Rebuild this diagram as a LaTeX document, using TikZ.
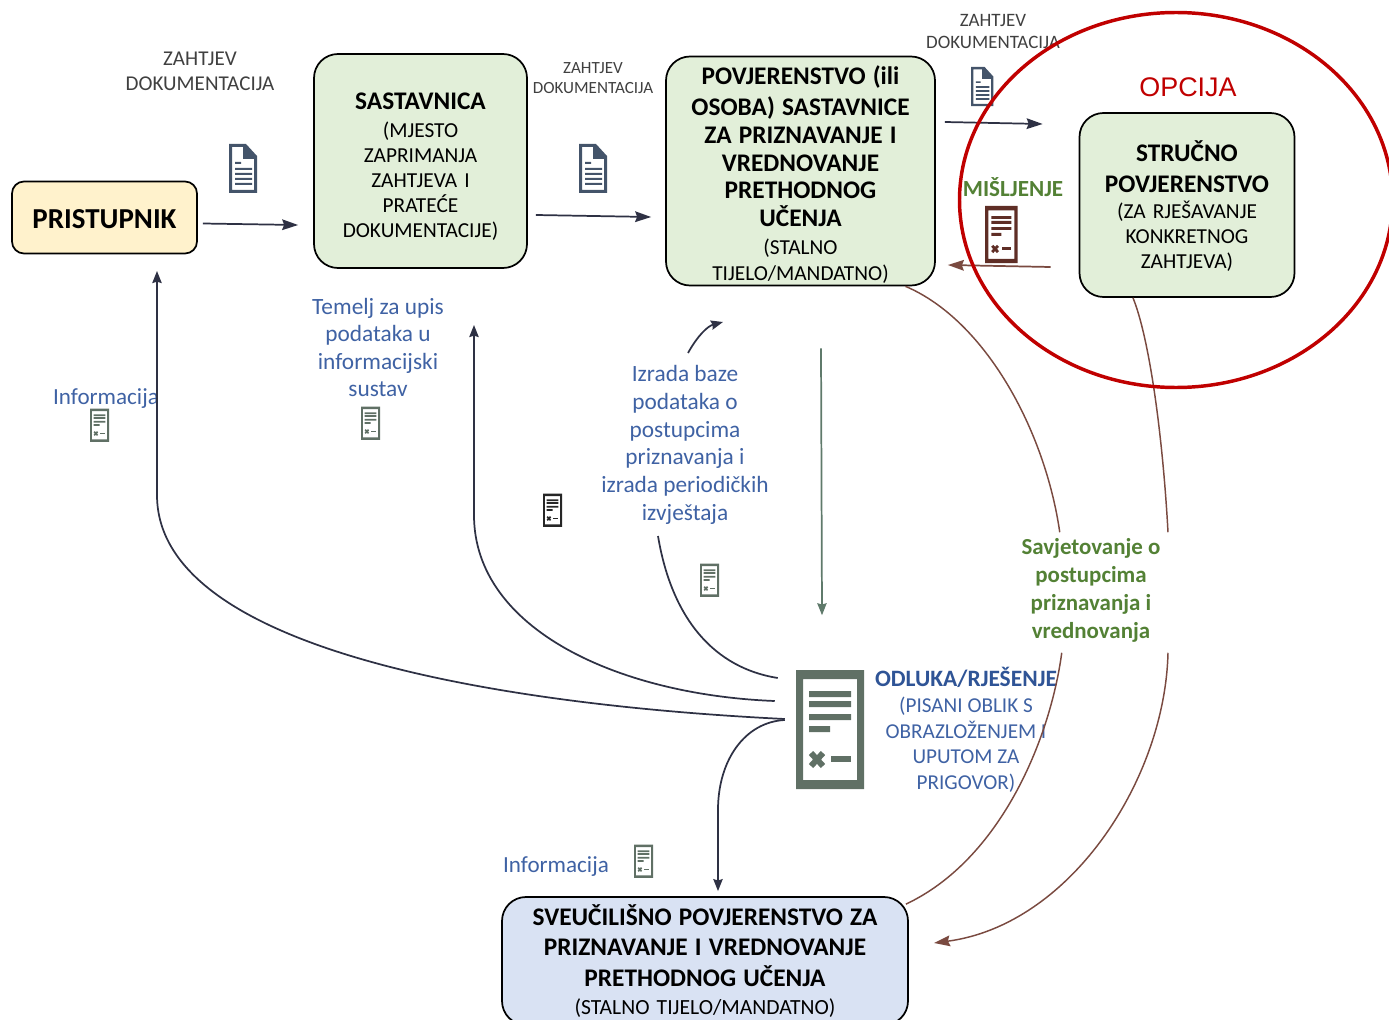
\documentclass[tikz,border=0pt]{standalone}
\usepackage{fontspec}
\setmainfont{Carlito}
\newfontfamily\arialf{Liberation Sans}
\usetikzlibrary{arrows.meta,shapes.geometric,calc}
\definecolor{gfill}{HTML}{E2EFD9}
\definecolor{yfill}{HTML}{FFF2CC}
\definecolor{bfill}{HTML}{D9E2F3}
\definecolor{tblue}{HTML}{2F5496}
\definecolor{lblue}{HTML}{3F62A4}
\definecolor{tgreen}{HTML}{538135}
\definecolor{tgray}{HTML}{404040}
\definecolor{brownl}{HTML}{7A4A40}
\definecolor{brownd}{HTML}{5F2E26}
\definecolor{redc}{HTML}{C00000}
\definecolor{darkl}{HTML}{2E3144}
\definecolor{icong}{HTML}{607065}
\definecolor{icond}{HTML}{44546A}
\definecolor{arrowg}{HTML}{5F7A6B}
\newcommand{\fs}[2]{\fontsize{#1}{#2}\selectfont}
\newcommand{\bb}[1]{{\fontsize{19}{\baselineskip}\selectfont\bfseries #1}}
\tikzset{
  x=0.75pt,y=-0.75pt,
  card/.style={draw=black,line width=1.3pt,rounded corners=18pt,align=center,inner sep=0pt,text=black},
  lbl/.style={align=center,inner sep=0pt},
  linkd/.style={draw=darkl,line width=1.3pt},
  arrd/.style={linkd,-{Stealth[length=12pt,width=8pt,inset=1.5pt]}},
  arrs/.style={linkd,-{Stealth[length=9pt,width=7pt,inset=1pt]}},
  linkb/.style={draw=brownl,line width=1.1pt},
  formicon/.pic={
    \fill[#1,even odd rule] (0,0) rectangle (68,119) (7,9) rectangle (61,110);
    \fill[#1] (13,21) rectangle (55,27) (13,31) rectangle (55,37) (13,44) rectangle (55,50) (13,56) rectangle (34,62);
    \fill[#1] (35,86) rectangle (55,92);
    \fill[#1] (12.8,85) -- (17.2,81) -- (29.2,94) -- (24.8,98) -- cycle (24.8,81) -- (29.2,85) -- (17.2,98) -- (12.8,94) -- cycle;
  },
  docicon/.pic={
    \fill[#1,even odd rule] (0,0) -- (17,0) -- (28,12) -- (28,49) -- (0,49) -- cycle
       (3,3) -- (14,3) -- (14,15) -- (25,15) -- (25,46) -- (3,46) -- cycle;
    \fill[#1] (6,18) rectangle (12,20) (6,24) rectangle (23,26) (6,29) rectangle (23,31) (6,34) rectangle (23,36) (6,39) rectangle (23,41);
  },
}
\begin{document}
\begin{tikzpicture}
\useasboundingbox (0,0) rectangle (1389,1020);

% boxes
\node[card,fill=yfill,text width=185*0.75pt,minimum height=72*0.75pt,rounded corners=9pt,font=\fs{21.7}{24}\bfseries] (pris) at (104.5,217.5) {\rule{0pt}{17pt}PRISTUPNIK};
\node[card,fill=gfill,text width=213*0.75pt,minimum height=214*0.75pt,font=\fs{16}{18.8}] (sast) at (420.5,161) {\rule{0pt}{21.2pt}\bb{SASTAVNICA}\\[2pt](MJESTO\\ZAPRIMANJA\\ZAHTJEVA I\\PRATEĆE\\DOKUMENTACIJE)};
\node[card,fill=gfill,text width=269*0.75pt,minimum height=229*0.75pt,font=\fs{16}{20.8}] (pov) at (800.5,171) {\rule{0pt}{19.3pt}\bb{POVJERENSTVO (ili}\\[2.5pt]\bb{OSOBA) SASTAVNICE}\\\bb{ZA PRIZNAVANJE I}\\\bb{VREDNOVANJE}\\\bb{PRETHODNOG}\\\bb{UČENJA}\\(STALNO\\[-1.5pt]TIJELO/MANDATNO)};
\node[card,fill=gfill,text width=215*0.75pt,minimum height=184*0.75pt,font=\fs{16}{18.8}] (stru) at (1187,205) {\rule{0pt}{17pt}\bb{STRUČNO}\\[4.5pt]\bb{POVJERENSTVO}\\[0.7pt](ZA RJEŠAVANJE\\KONKRETNOG\\ZAHTJEVA)};
\node[card,fill=bfill,text width=406*0.75pt,minimum height=128*0.75pt,font=\fs{16.2}{22.9}] (sveu) at (705,961) {\bb{SVEUČILIŠNO POVJERENSTVO ZA}\\\bb{PRIZNAVANJE I VREDNOVANJE}\\\bb{PRETHODNOG UČENJA}\\[-1.8pt](STALNO TIJELO/MANDATNO)};

% labels
\node[lbl,text=tgray,font=\fs{15.8}{18.8}] (l1) at (200,71) {ZAHTJEV\\DOKUMENTACIJA};
\node[lbl,text=tgray,font=\fs{12.8}{15}] (l2) at (593,78) {ZAHTJEV\\DOKUMENTACIJA};
\node[lbl,text=tgray,font=\fs{14.2}{16.5}] (l3) at (993,31) {ZAHTJEV\\DOKUMENTACIJA};
\node[lbl,text=redc,font=\arialf\fs{20.2}{24}] (opc) at (1188,87) {OPCIJA};
\node[lbl,text=tgreen,font=\fs{17.3}{20}\bfseries] (mis) at (1013,187) {MIŠLJENJE};
\node[lbl,text=lblue,font=\fs{17.5}{20.7}] (temelj) at (378,347.5) {Temelj za upis\\podataka u\\informacijski\\sustav};
\node[lbl,text=lblue,font=\fs{17.3}{20}] (info1) at (106,399) {Informacija};
\node[lbl,text=lblue,font=\fs{17.3}{20}] (info2) at (556,866.5) {Informacija};
\node[lbl,text=lblue,font=\fs{17.5}{20.8}] (izrada) at (685,445) {Izrada baze\\podataka o\\postupcima\\priznavanja i\\izrada periodičkih\\izvještaja};
\node[lbl,text=tgreen,font=\fs{17.2}{21}\bfseries] (savj) at (1091,590.5) {Savjetovanje o\\postupcima\\priznavanja i\\vrednovanja};
\node[lbl,text=lblue,font=\fs{15.9}{19.2}] (odl) at (966,730) {{\fontsize{17.6}{19.2}\selectfont\bfseries\color{tblue} ODLUKA/RJEŠENJE}\\(PISANI OBLIK S\\OBRAZLOŽENJEM I\\UPUTOM ZA\\PRIGOVOR)};

% icons
\pic at (229,144) {docicon=icond};
\pic at (579,144) {docicon=icond};
\pic[scale=0.8] at (971,67) {docicon=icond};
\node[inner sep=0pt,minimum width=68*0.75pt,minimum height=119*0.75pt] (form) at (830,729) {};
\pic at (796,670) {formicon=icong};
\pic[scale=0.28] at (90,408.5) {formicon=icong};
\pic[scale=0.28] at (361,406.5) {formicon=icong};
\pic[scale=0.28] at (700,563.5) {formicon=icong};
\pic[scale=0.28] at (634,844.5) {formicon=icong};
\pic[scale=0.28] at (543,493.5) {formicon=black!85};
\pic[scale=0.48] at (985,206) {formicon=brownd};

% straight arrows
\draw[arrd] ([shift={(5,6)}]pris.east) -- ([shift={(-15,64)}]sast.west);
\draw[arrd] ([shift={(8,54)}]sast.east) -- ([shift={(-14,46)}]pov.west);
\draw[arrd] ([shift={(9,-49)}]pov.east) -- ([shift={(-36,-81)}]stru.west);
\draw[draw=brownl,line width=1.3pt,-{Stealth[length=12pt,width=8pt,inset=1.5pt]}] ([shift={(-28,62)}]stru.west) -- ([shift={(12,94)}]pov.east);
\draw[draw=arrowg,line width=1.3pt,-{Stealth[length=9pt,width=7pt,inset=1pt]}] ([shift={(-9,62)}]pov.south -| form.north) -- ([shift={(-8,-54)}]form.north);

% curves from the decision document
\coordinate (c1a) at (157,271);
\coordinate (c1b) at (157,495);
\coordinate (c2a) at (474,325);
\coordinate (c2b) at (474,515);
\coordinate (c3a) at (658,536);
\draw[arrs] ([shift={(-11,-10)}]form.west) .. controls (500,705) and (157,650) .. (c1b) -- (c1a);
\draw[arrs] ([shift={(-21,-28)}]form.west) .. controls (620,695) and (474,630) .. (c2b) -- (c2a);
\draw[linkd] ([shift={(-18,-51)}]form.west) .. controls (715,668) and (672,620) .. (c3a);
\draw[arrs] ([shift={(-11,-9)}]form.west) .. controls (745,722) and (718,760) .. (718,810) -- ([shift={(13,-5)}]sveu.north);
\coordinate (c4a) at (688,353);
\coordinate (c4b) at (723,322);
\draw[arrs] (c4a) .. controls (698,335) and (708,326) .. (c4b);

% advice curves
\draw[linkb] ([shift={(105,0)}]pov.south) .. controls (985,320) and (1045,430) .. ([shift={(-101,-6)}]savj.north east);
\draw[linkb] ([shift={(-99,10)}]savj.south east) .. controls (1050,740) and (1000,860) .. ([shift={(-3,8)}]sveu.north east);
\draw[linkb] ([shift={(-54,0)}]stru.south) .. controls (1150,340) and (1163,440) .. ([shift={(77,-6)}]savj.north);
\draw[linkb,-{Stealth[length=12pt,width=8pt,inset=1.5pt]}] ([shift={(77,10)}]savj.south) .. controls (1165,780) and (1070,925) .. (934,943);

% option ellipse
\node[draw=redc,line width=2.6pt,ellipse,minimum width=433*0.75pt,minimum height=375*0.75pt,inner sep=0pt] (opt) at (1176,200) {};
\end{tikzpicture}
\end{document}
